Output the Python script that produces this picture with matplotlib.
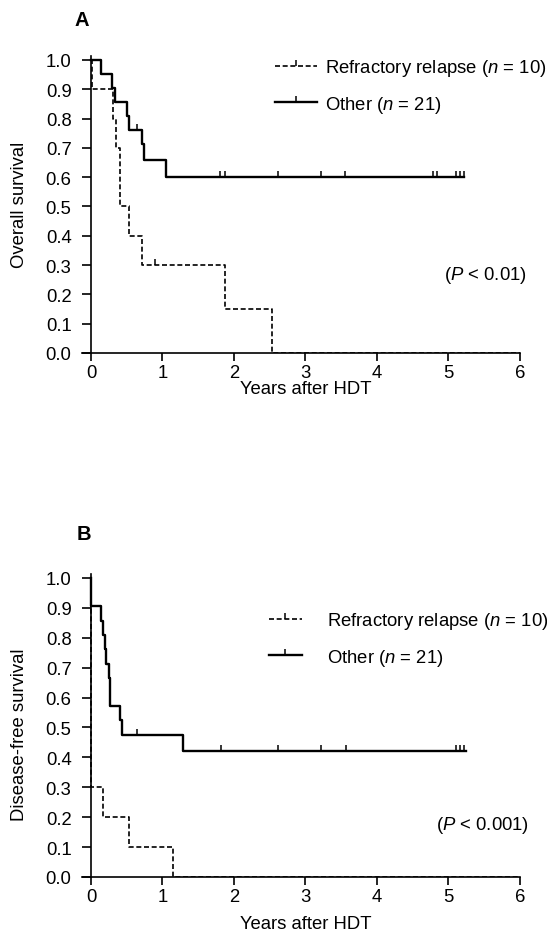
import matplotlib
matplotlib.use('Agg')
import matplotlib.pyplot as plt
from matplotlib.lines import Line2D

plt.rcParams['font.family'] = ['Liberation Sans', 'DejaVu Sans']
plt.rcParams['mathtext.fontset'] = 'custom'
plt.rcParams['mathtext.it'] = 'Liberation Sans:italic'
plt.rcParams['mathtext.rm'] = 'Liberation Sans'

# Panel A - overall survival (step curves: time of change, value after change)
a_ref_t = [0.0, 0.01, 0.31, 0.345, 0.405, 0.535, 0.72, 1.88, 2.53, 6.0]
a_ref_s = [1.0, 0.90, 0.80, 0.70, 0.50, 0.40, 0.30, 0.15, 0.0, 0.0]
a_ref_cens_t = [0.90]
a_ref_cens_s = [0.30]

a_oth_t = [0.0, 0.14, 0.29, 0.335, 0.50, 0.53, 0.72, 0.745, 1.045, 5.22]
a_oth_s = [1.0, 0.952, 0.905, 0.857, 0.81, 0.762, 0.714, 0.66, 0.60, 0.60]
a_oth_cens_t = [0.65, 1.81, 1.87, 2.61, 3.21, 3.55, 4.79, 4.84, 5.10, 5.16, 5.22]
a_oth_cens_s = [0.762, 0.6, 0.6, 0.6, 0.6, 0.6, 0.6, 0.6, 0.6, 0.6, 0.6]

# Panel B - disease-free survival
b_ref_t = [0.0, 0.0, 0.165, 0.53, 1.15, 6.0]
b_ref_s = [1.0, 0.30, 0.20, 0.10, 0.0, 0.0]

b_oth_t = [0.0, 0.0, 0.14, 0.17, 0.19, 0.21, 0.24, 0.25, 0.26, 0.27, 0.40, 0.44, 1.28, 5.24]
b_oth_s = [1.0, 0.905, 0.857, 0.81, 0.762, 0.714, 0.714, 0.667, 0.619, 0.571, 0.524, 0.476, 0.423, 0.423]
b_oth_cens_t = [0.65, 1.82, 2.61, 3.22, 3.57, 5.10, 5.16, 5.22]
b_oth_cens_s = [0.476, 0.423, 0.423, 0.423, 0.423, 0.423, 0.423, 0.423]

xticks = [0, 1, 2, 3, 4, 5, 6]
yticks = [0.0, 0.1, 0.2, 0.3, 0.4, 0.5, 0.6, 0.7, 0.8, 0.9, 1.0]

W, H = 547, 937
fs = 13.3
fig = plt.figure(figsize=(W / 100, H / 100), dpi=100)

ax1 = fig.add_axes([81.7 / W, 1 - 354 / H, (520 - 81.7) / W, (354 - 56.6) / H])
ax2 = fig.add_axes([81.7 / W, 1 - 878 / H, (520 - 81.7) / W, (878 - 574.5) / H])

dash = (0, (3.0, 1.6))


def style(ax):
    ax.set_xlim(-0.13, 6.0)
    ax.set_ylim(0, 1.015)
    ax.spines['top'].set_visible(False)
    ax.spines['right'].set_visible(False)
    ax.spines['left'].set_position(('data', 0))
    ax.spines['left'].set_bounds(0, 1.015)
    for s in ['left', 'bottom']:
        ax.spines[s].set_linewidth(1.2)
    ax.set_xticks(xticks)
    ax.set_yticks(yticks)
    ax.set_yticklabels(['%.1f' % v for v in yticks])
    ax.tick_params(axis='y', direction='out', length=6.5, width=1.2, labelsize=fs, pad=7.5)
    ax.tick_params(axis='x', direction='out', length=5.5, width=1.2, labelsize=fs, pad=2.5)


for ax in (ax1, ax2):
    style(ax)

# Panel A
ax1.step(a_ref_t, a_ref_s, where='post', color='black', lw=1.2, linestyle=dash)
ax1.plot(a_ref_cens_t, a_ref_cens_s, linestyle='none', marker=2, color='black', ms=4, mew=1.1)
ax1.step(a_oth_t, a_oth_s, where='post', color='black', lw=1.7)
ax1.plot(a_oth_cens_t, a_oth_cens_s, linestyle='none', marker=2, color='black', ms=4, mew=1.1)

# Panel B
ax2.step(b_ref_t, b_ref_s, where='post', color='black', lw=1.2, linestyle=dash)
ax2.step(b_oth_t, b_oth_s, where='post', color='black', lw=1.7)
ax2.plot(b_oth_cens_t, b_oth_cens_s, linestyle='none', marker=2, color='black', ms=4, mew=1.1)

h_ref = Line2D([], [], color='black', lw=1.2, linestyle=dash, marker=2, ms=4, mew=1.1)
h_oth = Line2D([], [], color='black', lw=1.7, marker=2, ms=4, mew=1.1)
labels = ['Refractory relapse ($n$ = 10)', 'Other ($n$ = 21)']

ax1.legend([h_ref, h_oth], labels, loc='upper left', bbox_to_anchor=((275 - 81.7) / (520 - 81.7), 1 - (58 - 56.6) / 297.4),
           frameon=False, fontsize=fs, handlelength=2.27, handletextpad=0.43, labelspacing=0.85,
           borderpad=0, borderaxespad=0, numpoints=1)
ax2.legend([h_ref, h_oth], labels, loc='upper left', bbox_to_anchor=((269 - 81.7) / (520 - 81.7), 1 - (611 - 574.5) / 303.5),
           frameon=False, fontsize=fs, handlelength=1.78, handletextpad=1.35, labelspacing=0.85,
           borderpad=0, borderaxespad=0, numpoints=1)

fig.text(527 / W, 1 - 275 / H, '($P$ < 0.01)', ha='right', va='center', fontsize=fs)
fig.text(529 / W, 1 - 826 / H, '($P$ < 0.001)', ha='right', va='center', fontsize=fs)

fig.text(82 / W, 1 - 20 / H, 'A', ha='center', va='center', fontsize=14.5, fontweight='bold')
fig.text(84 / W, 1 - 535 / H, 'B', ha='center', va='center', fontsize=14.5, fontweight='bold')

fig.text(20 / W, 1 - 205 / H, 'Overall survival', rotation=90, ha='center', va='center', fontsize=fs)
fig.text(20 / W, 1 - 735 / H, 'Disease-free survival', rotation=90, ha='center', va='center', fontsize=fs)
fig.text(306 / W, 1 - 390 / H, 'Years after HDT', ha='center', va='center', fontsize=fs)
fig.text(306 / W, 1 - 925 / H, 'Years after HDT', ha='center', va='center', fontsize=fs)

fig.savefig('out.png', dpi=100)
